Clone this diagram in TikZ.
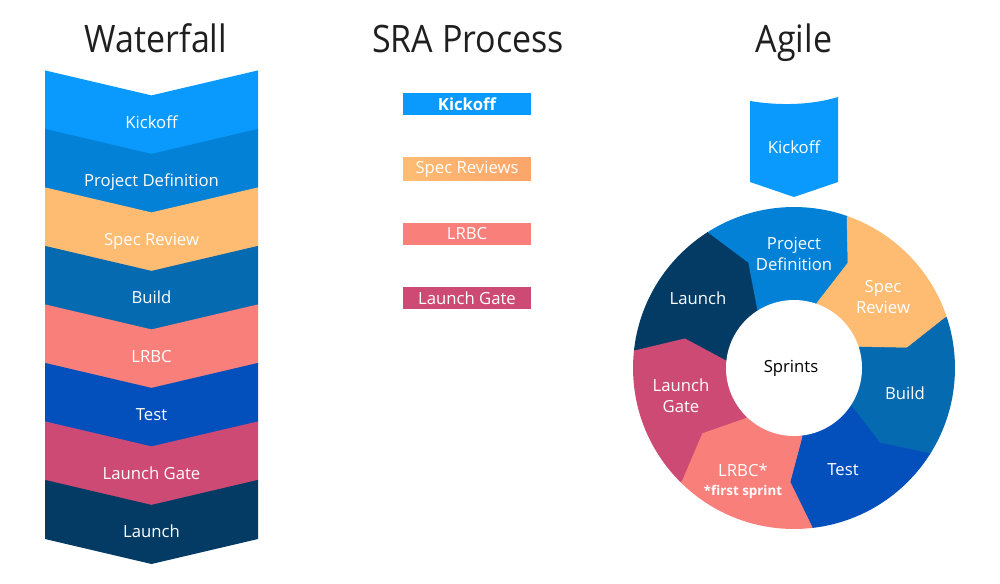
\documentclass[tikz,border=0pt]{standalone}
\usepackage{fontspec}
\setmainfont{Open Sans}
\newfontfamily\titlefont[FakeStretch=0.9]{Open Sans}
\definecolor{cKick}{HTML}{0A9AFE}
\definecolor{cProj}{HTML}{0381D6}
\definecolor{cSpec}{HTML}{FEBC73}
\definecolor{cSpecR}{HTML}{FBA56A}
\definecolor{cBuild}{HTML}{066AB1}
\definecolor{cLRBC}{HTML}{F97F7B}
\definecolor{cTest}{HTML}{0350BD}
\definecolor{cGate}{HTML}{CD4A74}
\definecolor{cLaunch}{HTML}{033B65}
\tikzset{
  lbl/.style={text=white, font=\fontsize{9.5}{12}\selectfont, align=center, inner sep=0pt},
  ttl/.style={font=\titlefont\fontsize{21.5}{24}\selectfont, text=black!88, inner sep=0pt, anchor=base},
  srabox/.style={minimum width=2.56cm, minimum height=0.46cm, inner sep=0pt, text=white,
     font=\fontsize{9.5}{11}\selectfont},
  seg/.style={fill=#1, draw=#1, line width=0.3pt}
}
\begin{document}
\begin{tikzpicture}[x=0.02cm,y=-0.02cm]
\useasboundingbox (0,0) rectangle (1000,584);
% titles
\node[ttl] (tWater) at (156,53) {Waterfall};
\node[ttl] (tSRA) at (468,53) {SRA Process};
\node[ttl] (tAgile) at (794,53) {Agile};
% waterfall chevrons
\foreach \c/\t [count=\k from 0] in {cKick/Kickoff, cProj/Project Definition, cSpec/Spec Review, cBuild/Build, cLRBC/LRBC, cTest/Test, cGate/Launch Gate, cLaunch/Launch}{
  \pgfmathsetmacro\ya{71+58.5*\k}
  \pgfmathsetmacro\yb{\ya+58.5}
  \fill[\c] (45,\ya-0.6) -- (151.5,\ya+24.4) -- (258,\ya-0.6) -- (258,\yb) -- (151.5,\yb+25) -- (45,\yb) -- cycle;
  \node[lbl, text height=1.6ex, text depth=0.1ex] (wf\k) at (151.5,\ya+50) {\t};
}
% SRA boxes
\node[srabox, fill=cKick] (sraKick) at (467,104) {\bfseries Kickoff};
\node[srabox, left color=cSpec, right color=cSpecR] (sraSpec) at (467,169) {Spec Reviews};
\node[srabox, fill=cLRBC] (sraLRBC) at (467,234) {LRBC};
\node[srabox, fill=cGate] (sraGate) at (467,298) {Launch Gate};
% agile kickoff
\fill[cKick] (750,101) .. controls (780,106) and (812,105) .. (838,97) -- (838,182) -- (794,197) -- (750,182) -- cycle;
\node[lbl] (agKick) at (794,147) {Kickoff};
% ring
\coordinate (O) at (794,368);
\coordinate (b1i) at (757,310); \coordinate (b1m) at (748,263); \coordinate (b1o) at (708,233); \coordinate (b1e) at (660,157);
\coordinate (b2i) at (817,303); \coordinate (b2m) at (848,263); \coordinate (b2o) at (847,218); \coordinate (b2e) at (877,132);
\coordinate (b3i) at (860,347); \coordinate (b3m) at (907,348); \coordinate (b3o) at (945,318); \coordinate (b3e) at (1031,290);
\coordinate (b4i) at (853,408); \coordinate (b4m) at (880,443); \coordinate (b4o) at (928,453); \coordinate (b4e) at (1005,502);
\coordinate (b5i) at (802,437); \coordinate (b5m) at (790,482); \coordinate (b5o) at (812,527); \coordinate (b5e) at (822,616);
\coordinate (b6i) at (745,418); \coordinate (b6m) at (702,433); \coordinate (b6o) at (682,480); \coordinate (b6e) at (617,545);
\coordinate (b7i) at (726,360); \coordinate (b7m) at (685,338); \coordinate (b7o) at (635,350); \coordinate (b7e) at (544,340);
\begin{scope}
  \clip (O) circle[radius=3.22cm];
  \foreach \a/\b/\c in {1/2/cProj, 2/3/cSpec, 3/4/cBuild, 4/5/cTest, 5/6/cLRBC, 6/7/cGate, 7/1/cLaunch}{
    \path[seg=\c] (O) -- (b\a i) -- (b\a m) -- (b\a o) -- (b\a e) -- (b\b e) -- (b\b o) -- (b\b m) -- (b\b i) -- cycle;
  }
\end{scope}
\fill[white] (O) circle[radius=1.36cm];
\node[lbl, text=black] (sprints) at (791,368) {Sprints};
\node[lbl] (rProj) at (794,254) {Project\\Definition};
\node[lbl] (rSpec) at (883,297) {Spec\\Review};
\node[lbl] (rLaunch) at (698,298) {Launch};
\node[lbl] (rBuild) at (905,393) {Build};
\node[lbl] (rTest) at (843,470) {Test};
\node[lbl, align=center] (rLRBC) at (743,481) {LRBC*\\[-1pt]{\fontsize{7.6}{9}\selectfont\bfseries *first sprint}};
\node[lbl] (rGate) at (681,396) {Launch\\Gate};
\end{tikzpicture}
\end{document}
